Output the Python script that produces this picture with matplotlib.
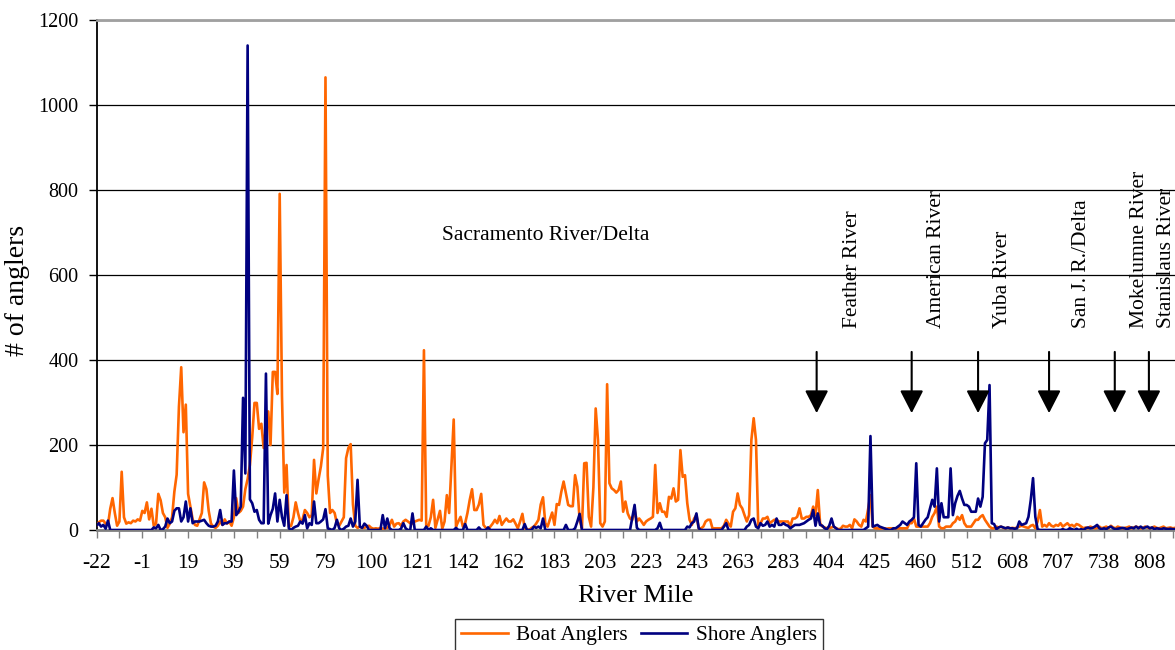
import matplotlib.pyplot as plt
from matplotlib.patches import ArrowStyle

plt.rcParams['font.family'] = ['Liberation Serif', 'DejaVu Serif']

# counts per river-mile category (one value per category, left to right)
boat_anglers = [
    10, 18, 22, 22, 15, 12, 50, 75, 40, 10,
    20, 137, 30, 15, 18, 16, 22, 20, 25, 22,
    45, 40, 65, 25, 50, 10, 15, 85, 70, 40,
    30, 5, 15, 30, 90, 130, 290, 383, 230, 295,
    85, 55, 25, 12, 10, 25, 40, 112, 96, 45,
    15, 8, 5, 10, 20, 12, 25, 15, 20, 10,
    30, 75, 40, 45, 55, 96, 120, 153, 218, 299,
    299, 238, 250, 193, 240, 279, 200, 372, 372, 320,
    791, 315, 88, 153, 8, 10, 30, 65, 40, 20,
    25, 47, 40, 30, 35, 165, 86, 120, 150, 193,
    1065, 128, 40, 47, 40, 15, 10, 20, 30, 169,
    193, 202, 60, 10, 5, 8, 5, 5, 8, 10,
    5, 3, 4, 3, 5, 3, 4, 5, 12, 24,
    8, 15, 16, 10, 20, 24, 20, 16, 15, 20,
    22, 24, 22, 423, 8, 10, 30, 71, 5, 25,
    45, 3, 20, 82, 40, 150, 260, 8, 20, 31,
    8, 16, 40, 71, 96, 47, 47, 60, 85, 12,
    5, 4, 8, 15, 24, 16, 33, 12, 20, 27,
    20, 20, 25, 15, 4, 20, 38, 4, 2, 0,
    5, 8, 15, 24, 60, 77, 16, 8, 25, 41,
    12, 61, 59, 90, 114, 86, 59, 56, 56, 129,
    102, 24, 4, 157, 158, 31, 8, 100, 286, 212,
    16, 8, 20, 343, 110, 98, 94, 88, 94, 114,
    43, 67, 39, 27, 24, 47, 20, 27, 20, 12,
    20, 24, 27, 31, 153, 40, 63, 43, 43, 31,
    78, 74, 98, 67, 71, 188, 125, 129, 63, 24,
    12, 27, 35, 4, 4, 8, 20, 24, 24, 4,
    4, 4, 4, 4, 10, 24, 15, 8, 43, 51,
    86, 59, 51, 35, 20, 35, 212, 263, 212, 8,
    16, 27, 27, 31, 16, 20, 24, 24, 20, 20,
    20, 20, 20, 8, 27, 27, 31, 51, 27, 27,
    31, 31, 35, 55, 35, 94, 16, 8, 6, 4,
    5, 6, 8, 4, 2, 3, 10, 8, 8, 12,
    4, 25, 20, 12, 8, 24, 20, 50, 82, 8,
    4, 4, 3, 4, 4, 3, 4, 4, 4, 4,
    4, 4, 4, 4, 4, 16, 16, 27, 8, 8,
    8, 8, 8, 8, 16, 31, 40, 55, 8, 4,
    4, 8, 8, 8, 16, 20, 31, 24, 35, 16,
    8, 8, 8, 16, 24, 24, 31, 35, 24, 16,
    8, 4, 4, 8, 6, 8, 5, 4, 6, 4,
    5, 4, 6, 8, 10, 8, 6, 5, 10, 12,
    4, 20, 47, 8, 12, 8, 16, 10, 8, 12,
    10, 16, 8, 12, 16, 10, 12, 8, 14, 12,
    8, 4, 6, 4, 8, 6, 4, 5, 8, 4,
    6, 8, 4, 10, 6, 4, 8, 6, 4, 5,
    6, 8, 4, 6, 8, 6, 4, 5, 8, 6,
    4, 6, 8, 5, 4, 6, 8, 4, 5, 6, 4, 5,
]

shore_anglers = [
    10, 16, 8, 12, 3, 22, 0, 0, 0, 0,
    0, 0, 0, 0, 0, 0, 0, 0, 0, 0,
    0, 0, 0, 0, 0, 6, 4, 12, 0, 2,
    8, 27, 16, 20, 45, 51, 51, 20, 30, 67,
    20, 51, 16, 20, 20, 20, 22, 24, 16, 10,
    8, 8, 10, 20, 47, 12, 16, 16, 20, 20,
    140, 35, 43, 55, 311, 133, 1140, 72, 63, 43,
    47, 24, 16, 16, 368, 15, 35, 50, 86, 20,
    71, 31, 10, 82, 4, 0, 5, 8, 10, 20,
    15, 35, 4, 16, 12, 67, 16, 16, 20, 25,
    49, 4, 2, 0, 5, 24, 4, 0, 3, 8,
    10, 27, 8, 20, 118, 8, 5, 15, 10, 0,
    0, 0, 0, 0, 0, 35, 4, 27, 4, 0,
    0, 0, 0, 3, 16, 4, 0, 0, 39, 0,
    0, 0, 0, 0, 8, 0, 4, 0, 0, 0,
    0, 0, 0, 0, 0, 0, 0, 5, 0, 0,
    0, 14, 0, 0, 0, 0, 0, 6, 0, 0,
    0, 6, 0, 0, 0, 0, 0, 0, 0, 0,
    0, 0, 0, 0, 0, 0, 0, 14, 0, 0,
    0, 8, 5, 8, 4, 27, 0, 0, 0, 0,
    0, 0, 0, 0, 0, 12, 0, 0, 0, 4,
    20, 38, 0, 0, 0, 0, 0, 0, 0, 0,
    0, 0, 0, 0, 0, 0, 0, 0, 0, 0,
    0, 0, 0, 0, 30, 59, 5, 0, 0, 0,
    0, 0, 0, 0, 0, 4, 17, 0, 0, 0,
    0, 0, 0, 0, 0, 0, 0, 0, 8, 6,
    16, 20, 39, 4, 0, 0, 0, 0, 0, 0,
    0, 0, 0, 0, 8, 16, 0, 0, 0, 0,
    0, 0, 0, 0, 8, 12, 24, 27, 8, 4,
    16, 10, 12, 20, 8, 12, 8, 27, 12, 12,
    16, 12, 10, 4, 8, 12, 12, 12, 14, 16,
    20, 24, 27, 47, 10, 39, 12, 10, 4, 2,
    10, 27, 8, 4, 0, 0, 0, 0, 0, 0,
    0, 0, 0, 0, 0, 0, 4, 8, 221, 8,
    10, 12, 8, 6, 4, 2, 0, 0, 4, 4,
    8, 12, 20, 16, 12, 20, 24, 30, 157, 12,
    8, 16, 24, 30, 50, 71, 55, 145, 20, 63,
    30, 30, 30, 145, 35, 63, 80, 92, 74, 59,
    59, 55, 43, 43, 43, 74, 55, 78, 204, 212,
    341, 16, 14, 2, 6, 8, 6, 4, 6, 4,
    4, 3, 4, 20, 12, 14, 16, 31, 70, 122,
    31, 2, 0, 0, 0, 0, 0, 0, 0, 0,
    0, 0, 2, 0, 0, 4, 2, 0, 3, 0,
    2, 0, 4, 6, 4, 5, 8, 12, 4, 2,
    4, 2, 6, 8, 4, 2, 3, 4, 5, 4,
    2, 4, 6, 4, 8, 4, 8, 4, 6, 8,
    4, 6, 2, 4, 3, 2, 4, 3, 2, 3, 2, 2,
]

# river mile shown under every 20th category
mile_labels = ['-22', '-1', '19', '39', '59', '79', '100', '121', '142',
               '162', '183', '203', '223', '243', '263', '283', '404',
               '425', '460', '512', '608', '707', '738', '808']

# tributary markers: category where each reach starts
rivers = ['Feather River', 'American River', 'Yuba River', 'San J. R./Delta',
          'Mokelumne River', 'Stanislaus River']
river_start = [314.5, 356, 385, 416, 444.7, 459.6]
river_label_x = [330.3, 367, 395.8, 430.3, 455.7, 467.5]

x = list(range(len(boat_anglers)))

fig = plt.figure(figsize=(11.75, 6.5), dpi=100)
ax = fig.add_axes([96.5 / 1175, 120 / 650, 1 - 96.5 / 1175, 510 / 650])

ax.plot(x, boat_anglers, color='#FF6600', lw=1.9, label='Boat Anglers', zorder=3)
ax.plot(x, shore_anglers, color='#000080', lw=1.9, label='Shore Anglers', zorder=4)

ax.set_xlim(0, len(x) - 1)
ax.set_ylim(0, 1200)
ax.set_yticks(range(0, 1201, 200))
ax.yaxis.grid(True, color='black', lw=0.9)
ax.set_axisbelow(True)

ax.set_xticks(range(0, len(x), 10))
ax.set_xticklabels([mile_labels[k // 2] if k % 2 == 0 and k // 2 < len(mile_labels) else ''
                    for k in range(len(ax.get_xticks()))])
ax.tick_params(axis='x', length=6, width=1, color='#808080', pad=11, labelsize=15.5)
ax.tick_params(axis='y', length=6, width=1, direction='out', pad=7, labelsize=14.5)

ax.spines['left'].set_color('black')
ax.spines['left'].set_linewidth(1.3)
ax.spines['bottom'].set_color('#808080')
ax.spines['bottom'].set_linewidth(2)
ax.spines['top'].set_color('#a0a0a0')
ax.spines['top'].set_linewidth(2)
ax.spines['right'].set_visible(False)

ax.set_xlabel('River Mile', fontsize=19, labelpad=9)
ax.set_ylabel('# of anglers', fontsize=20, labelpad=3)
ax.yaxis.set_label_coords(-0.062, 0.47)

ax.text(196, 694, 'Sacramento River/Delta', fontsize=15.5, ha='center', va='center')

head = ArrowStyle('-|>', head_length=1.4, head_width=0.72)
for xs in river_start:
    ax.annotate('', xy=(xs, 275), xytext=(xs, 419),
                arrowprops=dict(arrowstyle=head, mutation_scale=10, color='black',
                                lw=1.5, shrinkA=0, shrinkB=0), zorder=5)
for name, xl in zip(rivers, river_label_x):
    ax.text(xl, 475, name, rotation=90, fontsize=15.5, ha='center', va='bottom',
            clip_on=False)

leg = fig.legend(loc='center', bbox_to_anchor=(639 / 1175, 1 - 635 / 650), ncol=2,
                 fontsize=15.3, frameon=True, fancybox=False, edgecolor='black',
                 handlelength=2.2, handletextpad=0.4, columnspacing=0.6,
                 borderpad=0.3)
leg.get_frame().set_linewidth(1)

fig.savefig('out.png', dpi=100)
